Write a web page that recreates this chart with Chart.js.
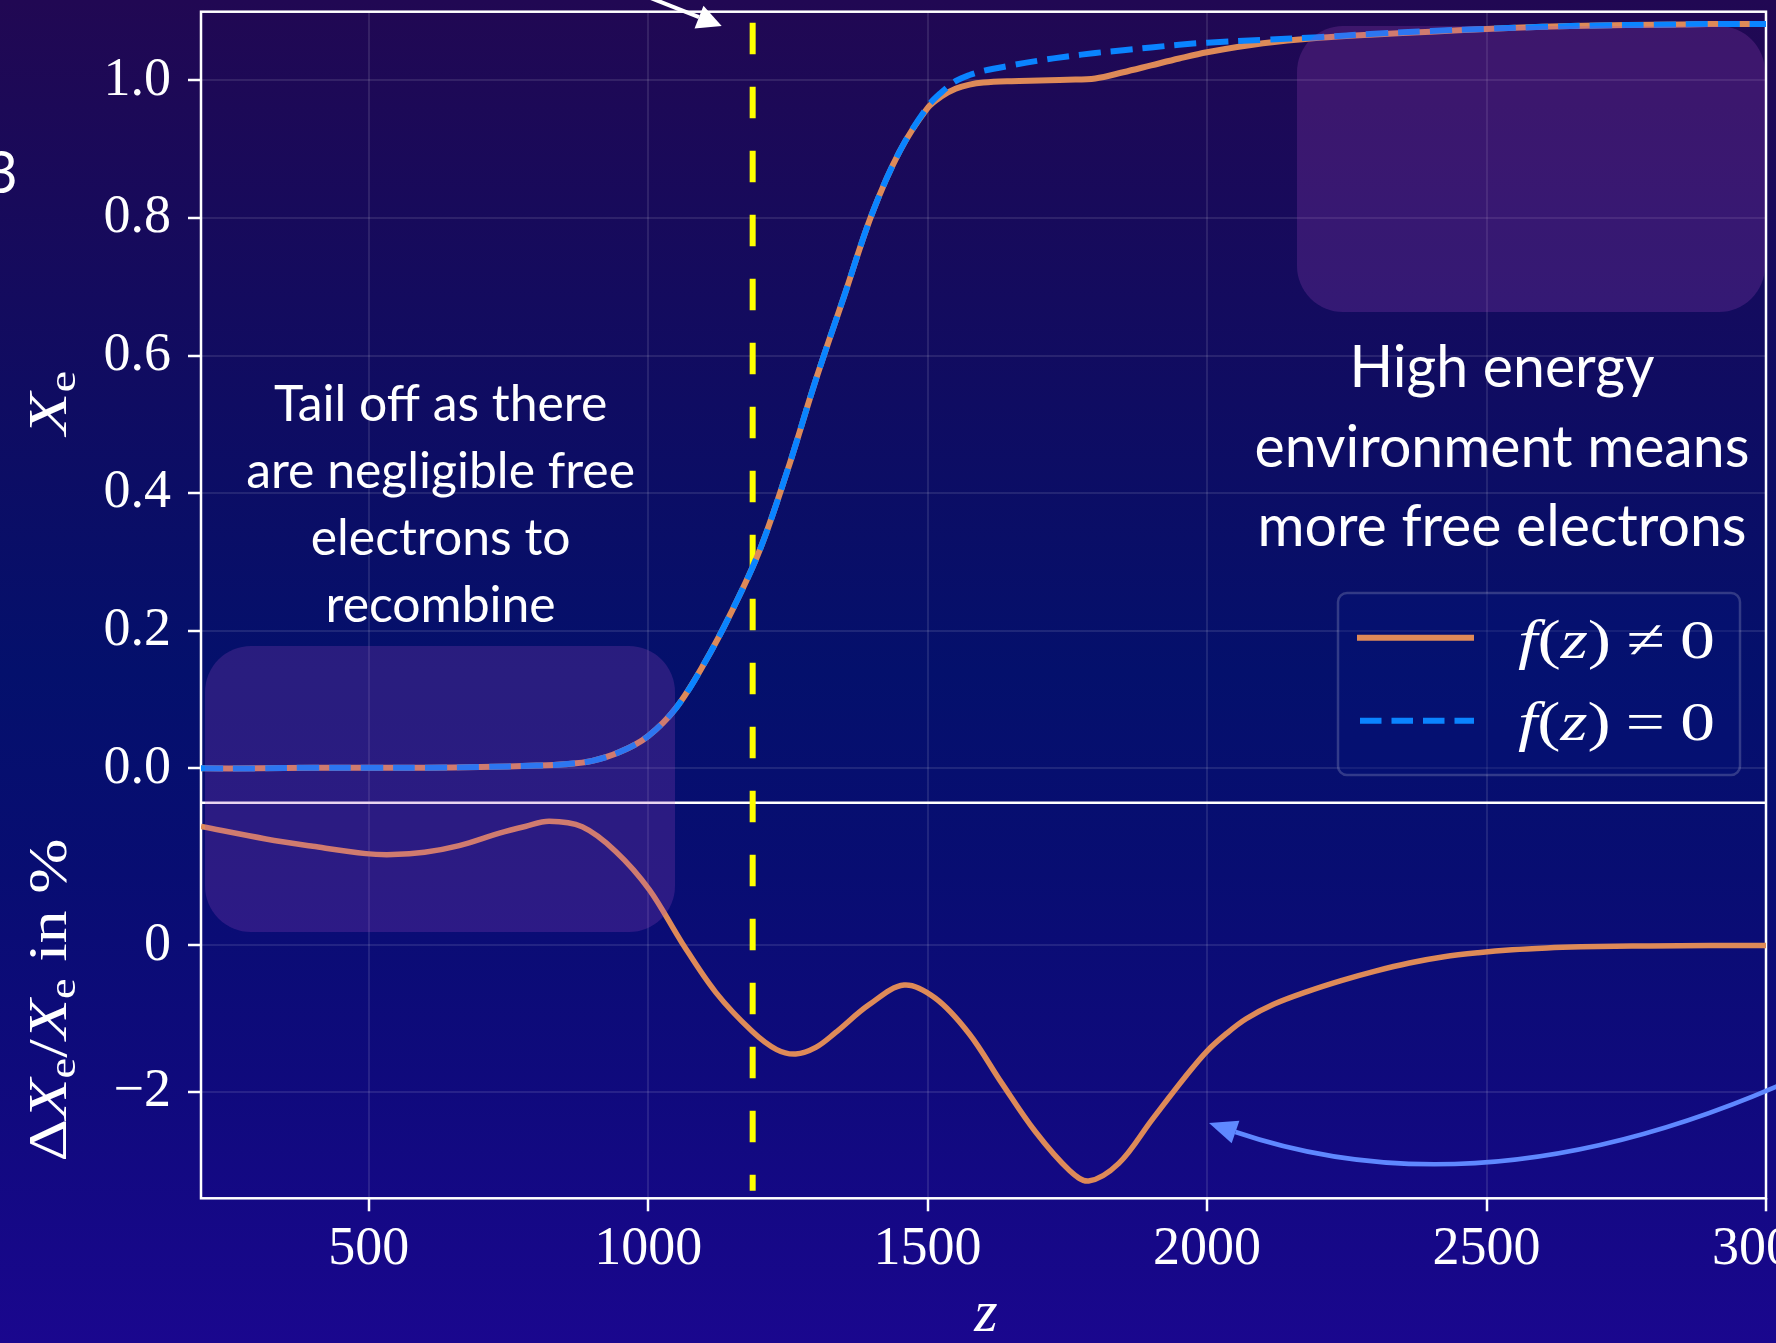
<!DOCTYPE html>
<html lang="en">
<head>
<meta charset="UTF-8">
<title>Free electron fraction X_e(z)</title>
<script src="https://cdn.jsdelivr.net/npm/chart.js@4.4.1/dist/chart.umd.min.js"></script>
<style>
  html, body { margin: 0; padding: 0; overflow: hidden; background: #08106a; }
  #wrap { position: relative; width: 1776px; height: 1343px; }
</style>
</head>
<body>
<div id="wrap"><canvas id="chart"></canvas></div>
<script>
// ---- data ----
const xTicks = [500, 1000, 1500, 2000, 2500, 3000];
const xeTicks = [0, 0.2, 0.4, 0.6, 0.8, 1.0];
const dTicks = [-2, 0];
const zMark = 1187;   // yellow dashed marker

const zUpper = [200, 300, 400, 500, 600, 700, 800, 850, 900, 950,
  1000, 1050, 1100, 1150, 1200, 1250, 1300, 1350, 1400, 1450,
  1500, 1525, 1550, 1575, 1600, 1650, 1700, 1750, 1800, 1850,
  1900, 1950, 2000, 2100, 2200, 2300, 2400, 2500, 2600, 2700,
  2800, 2900, 3000];
// f(z) != 0
const xeWithF = [0.000, 0.000, 0.001, 0.001, 0.001, 0.002, 0.004, 0.006, 0.011, 0.024,
  0.047, 0.088, 0.152, 0.229, 0.318, 0.435, 0.565, 0.685, 0.805, 0.897,
  0.960, 0.977, 0.988, 0.994, 0.997, 0.999, 1.000, 1.001, 1.003, 1.012,
  1.022, 1.032, 1.041, 1.054, 1.062, 1.067, 1.071, 1.075, 1.078, 1.080,
  1.081, 1.082, 1.082];
// f(z) = 0
const xeNoF = [0.000, 0.000, 0.001, 0.001, 0.001, 0.002, 0.004, 0.006, 0.011, 0.024,
  0.047, 0.088, 0.152, 0.229, 0.318, 0.435, 0.565, 0.685, 0.805, 0.897,
  0.962, 0.983, 0.999, 1.008, 1.014, 1.022, 1.029, 1.035, 1.040, 1.044,
  1.048, 1.052, 1.055, 1.059, 1.063, 1.068, 1.072, 1.075, 1.078, 1.080,
  1.081, 1.082, 1.082];

const zLower = [200, 316, 400, 495, 543, 600, 662, 734, 780, 823,
  882, 942, 1002, 1061, 1121, 1186, 1230, 1264, 1300, 1335,
  1395, 1458, 1514, 1574, 1633, 1693, 1753, 1788, 1842, 1901,
  1961, 2000, 2035, 2070, 2120, 2179, 2240, 2301, 2362, 2424,
  2485, 2546, 2608, 2669, 2730, 2791, 2900, 3000];
const dXePct = [1.62, 1.45, 1.35, 1.25, 1.237, 1.27, 1.36, 1.53, 1.62, 1.69,
  1.615, 1.28, 0.76, 0.03, -0.64, -1.17, -1.42, -1.48, -1.39, -1.19,
  -0.81, -0.54, -0.72, -1.20, -1.88, -2.54, -3.06, -3.21, -2.97, -2.38,
  -1.79, -1.44, -1.20, -1.00, -0.80, -0.63, -0.48, -0.35, -0.24, -0.155,
  -0.10, -0.06, -0.035, -0.02, -0.012, -0.007, -0.002, 0.0];

const leftNote = ['Tail off as there', 'are negligible free', 'electrons to', 'recombine'];
const rightNote = ['High energy', 'environment means', 'more free electrons'];

// ---- styling ----
const orange = '#de8a58';
const blue = '#0a84ff';
const arrowBlue = '#5f88ff';
const serif = '"Liberation Serif", "DejaVu Serif", serif';
const sans = 'Lato, "Open Sans", sans-serif';
const tickFont = { family: serif, size: 54 };
const gridStyle = {
  color: 'rgba(255,255,255,0.10)', lineWidth: 2,
  tickLength: 13, tickColor: '#ffffff', tickWidth: 2.5
};
const bgStops = [[0, '#210853'], [0.3, '#0f0c62'], [0.5, '#04106c'],
  [0.65, '#080d72'], [0.8, '#0f0a7c'], [1, '#1a078e']];

function fixedTicks(values) {
  return s => { s.ticks = values.map(v => ({ value: v })); };
}
function noPad(s) {
  s.paddingTop = 0; s.paddingBottom = 0; s.paddingLeft = 0; s.paddingRight = 0;
}
function minus(v) { return v < 0 ? '\u2212' + Math.abs(v) : String(v); }

function roundRect(ctx, x, y, w, h, r) {
  ctx.beginPath();
  ctx.moveTo(x + r, y);
  ctx.arcTo(x + w, y, x + w, y + h, r);
  ctx.arcTo(x + w, y + h, x, y + h, r);
  ctx.arcTo(x, y + h, x, y, r);
  ctx.arcTo(x, y, x + w, y, r);
  ctx.closePath();
}

// mixed roman / italic text, optionally stretched to a target width
function drawRich(ctx, parts, x, y, size, align, target) {
  let w = 0;
  const items = parts.map(p => {
    const s = p.sub ? size * 0.7 : size;
    const font = (p.it ? 'italic ' : '') + s + 'px ' + serif;
    ctx.font = font;
    const width = ctx.measureText(p.t).width + (p.gap || 0) * size * 2;
    w += width;
    return { p, font, width, dy: p.sub ? size * 0.16 : 0 };
  });
  const sx = target ? target / w : 1;
  ctx.save();
  ctx.translate(align === 'center' ? x - w * sx / 2 : x, y);
  ctx.scale(sx, 1);
  ctx.textAlign = 'left';
  ctx.textBaseline = 'alphabetic';
  let cx = 0;
  items.forEach(it => {
    ctx.font = it.font;
    ctx.fillText(it.p.t, cx + (it.p.gap || 0) * size, it.dy);
    cx += it.width;
  });
  ctx.restore();
}

function fitSize(ctx, text, family, target) {
  ctx.font = '100px ' + family;
  return 100 * target / ctx.measureText(text).width;
}

function arrowHead(ctx, tip, dir, len, half) {
  const bx = tip[0] - dir[0] * len, by = tip[1] - dir[1] * len;
  ctx.beginPath();
  ctx.moveTo(tip[0], tip[1]);
  ctx.lineTo(bx - dir[1] * half, by + dir[0] * half);
  ctx.lineTo(bx + dir[1] * half, by - dir[0] * half);
  ctx.closePath();
  ctx.fill();
  return [bx, by];
}
function unit(a, b) {
  const dx = b[0] - a[0], dy = b[1] - a[1], l = Math.hypot(dx, dy);
  return [dx / l, dy / l];
}

const decor = {
  id: 'decor',
  beforeDraw(chart) {
    const { ctx, width, height } = chart;
    const g = ctx.createLinearGradient(0, 0, 0, height);
    bgStops.forEach(([p, c]) => g.addColorStop(p, c));
    ctx.save();
    ctx.fillStyle = g;
    ctx.fillRect(0, 0, width, height);
    ctx.restore();
  },
  beforeDatasetsDraw(chart) {
    const { ctx, chartArea: a, scales } = chart;
    ctx.save();
    ctx.strokeStyle = '#ffffff';
    ctx.lineWidth = 2.5;
    ctx.strokeRect(a.left, a.top, a.right - a.left, a.bottom - a.top);
    const yDiv = scales.y.bottom;
    ctx.beginPath();
    ctx.moveTo(a.left, yDiv);
    ctx.lineTo(a.right, yDiv);
    ctx.stroke();
    // vertical marker
    const xm = scales.x.getPixelForValue(zMark);
    ctx.strokeStyle = '#ffff00';
    ctx.lineWidth = 6;
    ctx.setLineDash([31.5, 32.5]);
    ctx.beginPath();
    ctx.moveTo(xm, a.top + 11);
    ctx.lineTo(xm, a.bottom - 7.6);
    ctx.stroke();
    ctx.restore();
  },
  afterDatasetsDraw(chart) {
    const { ctx } = chart;
    ctx.save();
    // translucent highlight boxes
    ctx.fillStyle = 'rgba(165,75,190,0.23)';
    roundRect(ctx, 205, 646, 470, 286, 46);
    ctx.fill();
    roundRect(ctx, 1297, 26, 468, 286, 46);
    ctx.fill();

    // legend
    roundRect(ctx, 1338, 593, 402, 182, 9);
    ctx.fillStyle = 'rgba(6,20,120,0.35)';
    ctx.fill();
    ctx.strokeStyle = 'rgba(255,255,255,0.18)';
    ctx.lineWidth = 2.5;
    ctx.stroke();
    ctx.lineWidth = 6;
    ctx.strokeStyle = orange;
    ctx.beginPath(); ctx.moveTo(1357, 637.7); ctx.lineTo(1474, 637.7); ctx.stroke();
    ctx.strokeStyle = blue;
    ctx.setLineDash([21.5, 10]);
    ctx.beginPath(); ctx.moveTo(1360, 720.7); ctx.lineTo(1474, 720.7); ctx.stroke();
    ctx.setLineDash([]);
    ctx.fillStyle = '#ffffff';
    drawRich(ctx, [{ t: 'f', it: true }, { t: '(' }, { t: 'z', it: true }, { t: ')' },
      { t: '\u2260', gap: 0.22 }, { t: '0' }], 1518, 658, 55, 'left', 197);
    drawRich(ctx, [{ t: 'f', it: true }, { t: '(' }, { t: 'z', it: true }, { t: ')' },
      { t: '=', gap: 0.22 }, { t: '0' }], 1518, 740, 55, 'left', 197);

    // notes
    ctx.textAlign = 'center';
    ctx.textBaseline = 'alphabetic';
    let s = fitSize(ctx, leftNote[1], sans, 389);
    ctx.font = s + 'px ' + sans;
    leftNote.forEach((t, i) => ctx.fillText(t, 440.6, 421 + i * 67));
    s = fitSize(ctx, rightNote[1], sans, 495);
    ctx.font = s + 'px ' + sans;
    rightNote.forEach((t, i) => ctx.fillText(t, 1502, 387 + i * 79.5));
    // clipped glyph from the neighbouring slide content
    ctx.font = '58px ' + sans;
    ctx.textAlign = 'right';
    ctx.fillText('3', 18, 193);

    // white arrow at the top
    ctx.strokeStyle = '#ffffff';
    ctx.fillStyle = '#ffffff';
    ctx.lineWidth = 4;
    let tip = [721.7, 26], from = [600, -22];
    let d = unit(from, tip);
    let base = arrowHead(ctx, tip, d, 24.4, 12.2);
    ctx.beginPath(); ctx.moveTo(from[0], from[1]); ctx.lineTo(base[0], base[1]); ctx.stroke();

    // blue curved arrow
    ctx.strokeStyle = arrowBlue;
    ctx.fillStyle = arrowBlue;
    ctx.lineWidth = 4.5;
    const p0 = [1780, 1085], p1 = [1480, 1215];
    tip = [1209, 1123];
    d = unit(p1, tip);
    base = arrowHead(ctx, tip, d, 28, 12);
    ctx.beginPath(); ctx.moveTo(p0[0], p0[1]);
    ctx.quadraticCurveTo(p1[0], p1[1], base[0], base[1]);
    ctx.stroke();

    // axis titles
    ctx.fillStyle = '#ffffff';
    ctx.save();
    ctx.translate(66, 403); ctx.rotate(-Math.PI / 2);
    drawRich(ctx, [{ t: 'X', it: true }, { t: 'e', sub: true }], 0, 0, 54, 'center', 64);
    ctx.restore();
    ctx.save();
    ctx.translate(66, 1000); ctx.rotate(-Math.PI / 2);
    drawRich(ctx, [{ t: '\u0394' }, { t: 'X', it: true }, { t: 'e', sub: true }, { t: '/' },
      { t: 'X', it: true }, { t: 'e', sub: true }, { t: ' in %' }], 0, 0, 54, 'center', 323);
    ctx.restore();
    drawRich(ctx, [{ t: 'z', it: true }], 986, 1331, 60, 'center');
    ctx.restore();
  }
};

new Chart(document.getElementById('chart'), {
  type: 'line',
  data: {
    datasets: [
      {
        label: 'f(z) = 0', yAxisID: 'y', order: 0,
        data: zUpper.map((z, i) => ({ x: z, y: xeNoF[i] })),
        borderColor: blue, borderWidth: 6, borderDash: [22, 10]
      },
      {
        label: 'f(z) \u2260 0', yAxisID: 'y', order: 1,
        data: zUpper.map((z, i) => ({ x: z, y: xeWithF[i] })),
        borderColor: orange, borderWidth: 6
      },
      {
        label: '\u0394Xe/Xe in %', yAxisID: 'y2', order: 2,
        data: zLower.map((z, i) => ({ x: z, y: dXePct[i] })),
        borderColor: orange, borderWidth: 5.5
      }
    ]
  },
  options: {
    responsive: true,
    maintainAspectRatio: false,
    devicePixelRatio: 1,
    animation: false,
    events: [],
    layout: { padding: { top: 11.7, right: 10, bottom: 0, left: 0 } },
    elements: {
      point: { radius: 0 },
      line: { tension: 0.35, fill: false, borderCapStyle: 'butt', borderJoinStyle: 'round' }
    },
    plugins: { legend: { display: false }, tooltip: { enabled: false } },
    scales: {
      x: {
        type: 'linear', min: 200, max: 3000,
        afterBuildTicks: fixedTicks(xTicks),
        afterFit: s => { s.height = 1343 - 1198.3; noPad(s); },
        grid: gridStyle,
        border: { display: false },
        ticks: { color: '#ffffff', font: tickFont, padding: 6, maxRotation: 0, autoSkip: false,
          callback: v => String(v) }
      },
      y: {
        type: 'linear', position: 'left', stack: 'panels', stackWeight: 2, weight: 1,
        min: -0.05, max: 1.1,
        afterBuildTicks: fixedTicks(xeTicks),
        afterFit: s => { s.width = 201; noPad(s); },
        grid: gridStyle,
        border: { display: false },
        ticks: { color: '#ffffff', font: tickFont, padding: 17, callback: v => v.toFixed(1) }
      },
      y2: {
        type: 'linear', position: 'left', stack: 'panels', stackWeight: 1, weight: 0,
        min: -3.446, max: 1.943,
        afterBuildTicks: fixedTicks(dTicks),
        afterFit: s => { s.width = 201; noPad(s); },
        grid: gridStyle,
        border: { display: false },
        ticks: { color: '#ffffff', font: tickFont, padding: 17, callback: minus }
      }
    }
  },
  plugins: [decor]
});
</script>
</body>
</html>
